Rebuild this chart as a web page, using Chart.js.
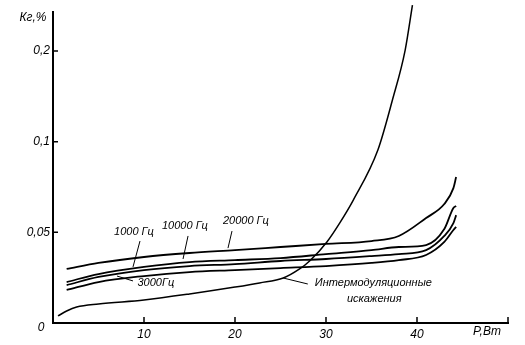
<!DOCTYPE html>
<html>
<head>
    <meta charset="utf-8">
    <title>Кг, % от мощности</title>
    <script src="https://cdn.jsdelivr.net/npm/chart.js"></script>
    <style>
        html, body { margin: 0; padding: 0; background: #fff; }
        .chart-wrap { width: 525px; height: 345px; }
    </style>
</head>
<body>
    <div class="chart-wrap"><canvas id="kgChart"></canvas></div>

    <script>
        // power, W (shared by the four frequency curves)
        const power = [1.5, 5, 10, 15, 20, 25, 30, 35, 38, 41, 43, 44, 44.3];
        // harmonic distortion, %
        const kg1000 = [0.0209, 0.0254, 0.0292, 0.0314, 0.0325, 0.0342, 0.0353, 0.0369, 0.0380, 0.0402, 0.0480, 0.0551, 0.0595];
        const kg3000 = [0.0182, 0.0226, 0.0259, 0.0281, 0.0292, 0.0303, 0.0314, 0.0331, 0.0347, 0.0375, 0.0447, 0.0513, 0.0530];
        const kg10000 = [0.0226, 0.0270, 0.0309, 0.0336, 0.0347, 0.0358, 0.0380, 0.0402, 0.0419, 0.0430, 0.0518, 0.0634, 0.0645];
        const kg20000 = [0.0298, 0.0331, 0.0364, 0.0386, 0.0402, 0.0419, 0.0436, 0.0452, 0.0480, 0.0579, 0.0656, 0.0744, 0.0805];
        // intermodulation distortion
        const powerIm = [0.55, 1.5, 2.6, 5, 10, 15, 20, 22.7, 25.3, 27.1, 28.2, 30.1, 31.5, 33, 35.7, 37.3, 38.7, 39.5];
        const kgIm = [0.0039, 0.0066, 0.0088, 0.0105, 0.0127, 0.0160, 0.0198, 0.0221, 0.0248, 0.0298, 0.0342, 0.0447, 0.0551, 0.0678, 0.0954, 0.1459, 0.2010, 0.2506];

        // axis ticks
        const xTicks = [10, 20, 30, 40];
        const yTicks = [0, 0.05, 0.1, 0.2];
        const yTickLabels = ['', '0,05', '0,1', '0,2'];

        // curve captions with leader lines (in axis units)
        const notes = [
            { text: '1000 Гц', at: [8.9, 0.0502], line: [[9.56, 0.0452], [8.79, 0.0309]] },
            { text: '10000 Гц', at: [14.5, 0.0535], line: [[14.84, 0.0480], [14.29, 0.0353]] },
            { text: '20000 Гц', at: [21.2, 0.0562], line: [[19.67, 0.0507], [19.23, 0.0413]] },
            { text: '3000Гц', at: [11.3, 0.0221], line: [[8.79, 0.0232], [7.03, 0.0259]] },
            { text: 'Интермодуляционные', at: [35.2, 0.0221], line: [[28.0, 0.0215], [25.3, 0.0248]] },
            { text: 'искажения', at: [35.3, 0.0132], line: null },
        ];

        const FONT = "'Liberation Sans', 'DejaVu Sans', sans-serif";

        // the y axis is evenly spaced for 0 / 0,05 / 0,1 / 0,2
        function toUnits(v) {
            for (let i = 1; i < yTicks.length; i++) {
                if (v <= yTicks[i]) return i - 1 + (v - yTicks[i - 1]) / (yTicks[i] - yTicks[i - 1]);
            }
            const n = yTicks.length;
            return n - 1 + (v - yTicks[n - 1]) / (yTicks[n - 1] - yTicks[n - 2]);
        }
        function fromUnits(u) {
            const n = yTicks.length;
            if (u >= n - 1) return yTicks[n - 1] + (u - (n - 1)) * (yTicks[n - 1] - yTicks[n - 2]);
            const i = Math.max(0, Math.floor(u));
            return yTicks[i] + (u - i) * (yTicks[i + 1] - yTicks[i]);
        }

        class SteppedScale extends Chart.LinearScale {
            getPixelForValue(v) {
                return this.getPixelForDecimal(toUnits(v) / toUnits(this.max));
            }
            getValueForPixel(p) {
                return fromUnits(this.getDecimalForPixel(p) * toUnits(this.max));
            }
        }
        SteppedScale.id = 'stepped';
        SteppedScale.defaults = Chart.LinearScale.defaults;
        Chart.register(SteppedScale);

        // inward tick marks, axis names and curve captions
        const decorations = {
            id: 'decorations',
            afterDraw(chart) {
                const { ctx, chartArea: a, scales: { x, y } } = chart;
                ctx.save();
                ctx.strokeStyle = '#000';
                ctx.lineWidth = 1.5;
                ctx.beginPath();
                yTicks.slice(1).forEach(v => {
                    const py = y.getPixelForValue(v);
                    ctx.moveTo(a.left, py); ctx.lineTo(a.left + 5, py);
                });
                xTicks.concat([x.max]).forEach(v => {
                    const px = x.getPixelForValue(v);
                    ctx.moveTo(px, a.bottom); ctx.lineTo(px, a.bottom - 6);
                });
                ctx.stroke();

                ctx.fillStyle = '#000';
                ctx.font = 'italic 11px ' + FONT;
                ctx.textBaseline = 'middle';
                ctx.textAlign = 'center';
                ctx.lineWidth = 1;
                notes.forEach(n => {
                    ctx.fillText(n.text, x.getPixelForValue(n.at[0]), y.getPixelForValue(n.at[1]));
                    if (n.line) {
                        ctx.beginPath();
                        ctx.moveTo(x.getPixelForValue(n.line[0][0]), y.getPixelForValue(n.line[0][1]));
                        ctx.lineTo(x.getPixelForValue(n.line[1][0]), y.getPixelForValue(n.line[1][1]));
                        ctx.stroke();
                    }
                });

                ctx.font = 'italic 12px ' + FONT;
                ctx.fillText('Кг,%', a.left - 20, a.top + 6);
                ctx.fillText('P,Вт', a.right - 21, a.bottom + 9);
                ctx.fillText('0', a.left - 12, a.bottom + 5);
                ctx.restore();
            }
        };

        const lineStyle = {
            borderColor: '#000',
            borderWidth: 1.8,
            pointRadius: 0,
            fill: false,
            cubicInterpolationMode: 'monotone',
        };
        const toPoints = (xs, ys) => xs.map((p, i) => ({ x: p, y: ys[i] }));

        new Chart(document.getElementById('kgChart'), {
            type: 'line',
            data: {
                datasets: [
                    { label: '20000 Гц', data: toPoints(power, kg20000), ...lineStyle },
                    { label: '10000 Гц', data: toPoints(power, kg10000), ...lineStyle },
                    { label: '1000 Гц', data: toPoints(power, kg1000), ...lineStyle },
                    { label: '3000 Гц', data: toPoints(power, kg3000), ...lineStyle },
                    { label: 'Интермодуляционные искажения', data: toPoints(powerIm, kgIm), ...lineStyle, borderWidth: 1.5, clip: false },
                ]
            },
            options: {
                responsive: true,
                maintainAspectRatio: false,
                animation: false,
                layout: { padding: { top: 12, right: 17, left: 0, bottom: 0 } },
                scales: {
                    x: {
                        type: 'linear',
                        min: 0,
                        max: 50,
                        afterBuildTicks: s => { s.ticks = xTicks.map(v => ({ value: v })); },
                        afterFit: s => { s.height = 22; },
                        grid: { display: false, drawTicks: false },
                        border: { display: true, color: '#000', width: 2 },
                        ticks: {
                            color: '#000',
                            padding: 4,
                            font: { family: FONT, size: 12, style: 'italic' },
                        },
                    },
                    y: {
                        type: 'stepped',
                        min: 0,
                        max: 0.243,
                        afterBuildTicks: s => { s.ticks = yTicks.map(v => ({ value: v })); },
                        afterFit: s => { s.width = 53; },
                        grid: { display: false, drawTicks: false },
                        border: { display: true, color: '#000', width: 2 },
                        ticks: {
                            color: '#000',
                            padding: 3,
                            font: { family: FONT, size: 12, style: 'italic' },
                            callback: (v, i) => yTickLabels[i],
                        },
                    }
                },
                plugins: {
                    legend: { display: false },
                    tooltip: { enabled: false },
                }
            },
            plugins: [decorations],
        });
    </script>
</body>
</html>
